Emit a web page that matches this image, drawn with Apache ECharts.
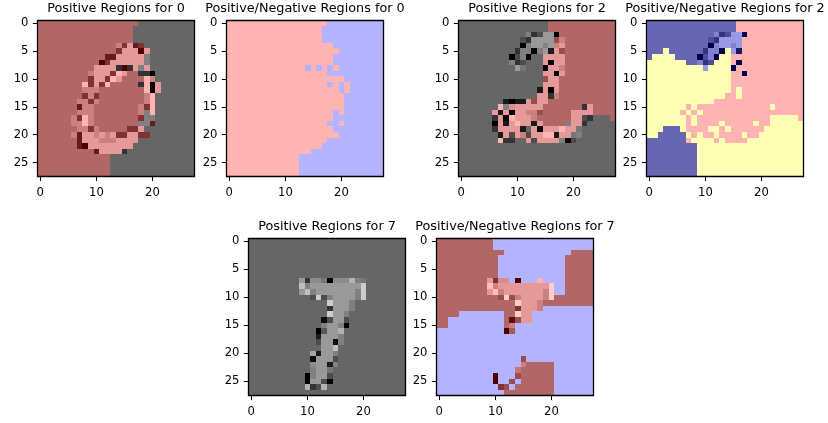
<!DOCTYPE html>
<html><head><meta charset="utf-8">
<style>html,body{margin:0;padding:0;background:#fff}#c{width:828px;height:423px}</style>
<script src="https://cdn.jsdelivr.net/npm/echarts@6/dist/echarts.min.js"></script>
</head><body><div id="c"></div>
<script>
const titles = ['Positive Regions for 0','Positive/Negative Regions for 0','Positive Regions for 2','Positive/Negative Regions for 2','Positive Regions for 7','Positive/Negative Regions for 7'];
const FLAT_LEVEL = 7, BASE_LEVEL = 4;

// Region masks: run lengths per image row (A = supporting, B = against, Y = unused superpixels)
const mask0 = ['A18 B10','A17 B11','A17 B11','A17 B11','A19 B9','A20 B8','A19 B9','A19 B9',
 'A14 B1 A1 B1 A1 B1 A1 B8','A18 B10','A21 B7','A18 B1 A1 B1 A1 B6','A20 B1 A1 B6','A21 B7','A21 B7','A21 B7',
 'A19 B1 A1 B7','A19 B9','A18 B2 A1 B7','A19 B9','A20 B8','A18 B10','A17 B11','A15 B13','A13 B15','A13 B15','A13 B15','A13 B15'];
const mask2 = ['B16 A12','B16 A12','B18 A10','B17 A11','B17 A11','B3 Y1 B10 Y1 B2 A11','B1 Y4 B8 Y2 A13','Y7 B5 Y3 A1 B1 A11',
 'Y10 B1 Y4 B1 A12','Y15 A2 B1 A10','Y15 A13','Y15 A13','Y15 A1 Y1 A11','Y14 A2 Y1 A11','Y12 A16','Y7 A1 Y1 A13 Y1 A5',
 'Y6 A1 Y1 A1 Y1 A18','Y7 A1 Y1 A13 Y5 A1','Y7 A1 Y1 A4 Y1 A5 Y1 A2 Y6','Y3 B3 Y1 A4 Y2 A1 Y1 A6 Y7','Y2 B5 Y1 A1 Y1 A2 Y1 A4 Y1 A2 Y8',
 'B7 A1 Y4 A1 Y1 A4 Y10','B9 Y19','B9 Y19','B9 Y19','B9 Y19','B9 Y19','B9 Y19'];
const mask7 = ['A10 B18','A10 B18','A12 B12 A4','A11 B12 A5','A11 B12 A5','A11 B12 A5','A11 B12 A5','A13 B1 A1 B3 A1 B4 A5',
 'A21 B2 A5','A21 B2 A5','A28','A28','A19 B9','A4 B8 A5 B11','A2 B10 A5 B11','A2 B10 A2 B14','B12 A2 B14',
 'B28','B28','B28','B28','B15 A1 B12','B15 A6 B7','B14 A7 B7','B10 A1 B3 A7 B7','B10 A1 B2 A1 B1 A6 B7','B11 A2 B1 A7 B7','B12 A9 B7'];

// Digit images: per row, "column:level" (or "from-to:level"); unlisted cells hold the background level
const digit0 = ['','','','',
 '14:5 15:2 16:6 17:1 18:2','14:2 15-17:6 18:0 19:6','12:1 13:1 14-18:6 19:5','11:0 12:2 13-18:6 19:5',
 '10-13:6 14:2 15:0 16:2 17:6 18:5 19:6','9:5 10-12:6 13:2 14:7 15:6 18:2 19:2 20:0','9:2 10:6 11:6 12:2 13:7 14:6 19:7 20:5',
 '8:7 9:2 10:6 11:2 12:7 18:2 19:7 20:0 21:6','8:5 9:5 10:5 19:7 20:0 21:6','8:2 9:5 10:2 19:5 20:7','7:5 8:5 9:2 10:5 19:5 20:7',
 '7:1 8:5 9:5 18:5 19:2 20:7','7:5 8:5 9:5 18:5 19:5 20:7','6:5 7:2 8:7 9:5 18:2 19:5 20:5','6:5 7:5 8:7 9:5 18:5 19:5 20:1',
 '7:5 8:5 9:2 10:5 16:2 17:2 18:6','6:5 7:1 8:6 9:6 10:5 11:6 12:5 13:6 14:2 15:2 16:6 17:6 18:2 19:2','7:1 8-10:6 11-13:5 14-17:6',
 '7:1 8:0 9-16:6','10:1 11-14:6 15:2','','','',''];
const digit2 = ['','',
 '12:5 13:2 14:3 15:6 16:6 17:0','11:3 12:2 13-16:6 17:3 18:5','11:0 12:5 13:6 14:6 15:5 16:6 17:5 18:6','10:2 11:5 12:5 13:0 14:5 15:6 16:1 17:6 18:3',
 '9:0 10:3 11:5 12:0 15:6 16:6 17:6 18:6','9:5 10:2 11:3 15:6 16:0 17:6 18:6','10:6 11:4.6 15:0 16:6 17:6 18:5','15:6 16:6 17:0 18:6','15:3 16:6 17:6','15-17:6',
 '14:1 15:6 16:0 17:6','14:6 15:6 16:2 17:5','8:1 9:0 10:1 11:1 12:6 13:3 14:6 15:6','7:7 8:5 9:5.5 10-14:6 22:2 23:6',
 '6:6 7:1 8:6 9:0 10:6 11:6 12:5 13:5 14:3 20-23:6','6:2 7:6 8:0 9:7 10-12:6 13:5 20:6 21:6 22:3 23:2','6:0 7:6 8:1 9:6 10:7 11:6 12:6 13:1 14:6 19:5 20:6 21:6 22:2',
 '6:2 7-10:6 11:1 12:4 13:6 14:0 15-17:6 18:7 19:6 20:6 21:4.6','7:1 8:6 9:3 10:6 11:5 12:3 13:6 14:6 15:7 16:7 17:1 18:6 19:6 20:4.6 21:5',
 '7:7 8:2 9:2 12:6 13:3 14-17:6 18:5 19:0 20:3','','','','','',''];
const digit7 = ['','','','','','','',
 '9:6 10:2 11:5.5 12:5.5 13:4.6 14:0 15-17:5.5 18:7 19:5 20:4.6','9:7.5 10:5 11-19:6 20:8','9:6 10:7.5 11:5 12-18:6 19:5 20:8',
 '11:3 12:8 13:3 14:5 15-18:6 19:5 20:8','14:8 15-17:6 18:5','14:2 15-17:6 18:5','14:8 15:6 16:6 17:5','13:0.5 14:3 15:6 16:6 17:3',
 '13:5 14:6 15:6 16:5 17:0','12:0 13:3.5 14:6 15:6 16:7','12:1 13-15:6 16:5','12:3 13:6 14:6 15:0.5 16:5','13:6 14:6 15:7.5','11:6.5 12:1 13:6 14:6 15:5',
 '11:0.5 12-14:6 15:3','11:5.5 12:6 13:6 14:1 15:5','11:5 12:6 13:6 14:4.6','10:0 11:5 12:6 13:6 14:3','10:0 11:6 12:6 13:3 14:0','10:7 11:2 12:3 13:7',''];

const gridW = 157, gridH = [156,156,156,156,157,157];
const layout = [[37.5,20.5],[226.5,20.5],[458.5,20.5],[646.5,20.5],[248.5,238.5],[436.5,238.5]];
// per panel: image, mask, and per mask letter [tint, keepImage]
const panels = [
 {img:digit0,mask:mask0,map:{A:['red',1],B:['none',1]}},
 {img:digit0,mask:mask0,map:{A:['red',0],B:['blue',0]}},
 {img:digit2,mask:mask2,map:{A:['red',1],Y:['none',1],B:['none',1]}},
 {img:digit2,mask:mask2,map:{A:['red',0],Y:['yellow',0],B:['blue',1]}},
 {img:digit7,mask:mask7,map:{A:['none',1],B:['none',1]}},
 {img:digit7,mask:mask7,map:{A:['red',1],B:['blue',0]}}
];
// colour added on top of the grey level, per region tint
const tints = {none:[0,0,0],red:[.3,0,0],blue:[0,0,.3],yellow:[.3,.3,0]};
function ramp(t){const s=[];for(let i=0;i<=20;i++){const g=i/20;s.push('rgb('+t.map(d=>Math.round(255*Math.min(1,g+d))).join(',')+')');}return s;}

function expandMask(rows){return rows.map(r=>{const o=[];r.split(' ').forEach(t=>{for(let i=0;i<+t.slice(1);i++)o.push(t[0]);});return o;});}
function expandImg(rows){return rows.map(r=>{const o=new Array(28).fill(BASE_LEVEL);r.split(' ').filter(Boolean).forEach(t=>{const [c,l]=t.split(':');const [a,b]=c.split('-');for(let i=+a;i<=+(b===undefined?a:b);i++)o[i]=+l;});return o;});}

const edge=v=>Math.round(v+1e-4);
function renderCell(params,api){
 const p=api.coord([api.value(0),api.value(1)]), sz=api.size([1,1]);
 const x0=edge(p[0]-sz[0]/2),x1=edge(p[0]+sz[0]/2),y0=edge(p[1]-sz[1]/2),y1=edge(p[1]+sz[1]/2);
 return {type:'rect',shape:{x:x0,y:y0,width:x1-x0,height:y1-y0},style:{fill:api.visual('color')}};
}
function renderFrame(params){
 const c=params.coordSys;
 return {type:'rect',shape:{x:c.x,y:c.y,width:c.width,height:c.height},style:{fill:'none',stroke:'#000',lineWidth:1.3}};
}

const cats = Array.from({length:28},(_,i)=>String(i));
const title=[],grid=[],xAxis=[],yAxis=[],series=[];
const tintSeries={none:[],red:[],blue:[],yellow:[]};
const tickStyle={show:true,length:4.6,alignWithLabel:true,lineStyle:{color:'#000',width:1}};
const labelStyle={color:'#000',fontFamily:'DejaVu Sans',fontSize:11.6};
panels.forEach((p,k)=>{
 const [l,t]=layout[k];
 title.push({text:titles[k],left:l+gridW/2,top:t-18.5,padding:0,textAlign:'center',textStyle:{color:'#000',fontFamily:'DejaVu Sans',fontSize:12.8,fontWeight:'normal'}});
 grid.push({left:l,top:t,width:gridW,height:gridH[k]});
 xAxis.push({type:'category',gridIndex:k,data:cats,position:'bottom',axisLine:{show:false},axisTick:{...tickStyle,interval:9},axisLabel:{...labelStyle,interval:9,margin:10},splitLine:{show:false}});
 yAxis.push({type:'category',gridIndex:k,data:cats,inverse:true,position:'left',axisLine:{show:false},axisTick:{...tickStyle,interval:4},axisLabel:{...labelStyle,interval:4,margin:9},splitLine:{show:false}});
 const m=expandMask(p.mask), im=expandImg(p.img), buckets={};
 m.forEach((row,r)=>row.forEach((ch,c)=>{
   const [tint,keep]=p.map[ch];
   (buckets[tint]=buckets[tint]||[]).push([c,r,(keep?im[r][c]:FLAT_LEVEL)/10]);
 }));
 Object.keys(buckets).forEach(tint=>{
   tintSeries[tint].push(series.length);
   series.push({type:'custom',renderItem:renderCell,xAxisIndex:k,yAxisIndex:k,data:buckets[tint],encode:{x:0,y:1},silent:true,animation:false,clip:true});
 });
 series.push({type:'custom',renderItem:renderFrame,xAxisIndex:k,yAxisIndex:k,data:[[0,0]],encode:{x:0,y:1},silent:true,animation:false,clip:false,z:10});
});
const visualMap=Object.keys(tints).filter(t=>tintSeries[t].length).map(t=>({
  type:'continuous',show:false,min:0,max:1,dimension:2,seriesIndex:tintSeries[t],inRange:{color:ramp(tints[t])}
}));
const chart=echarts.init(document.getElementById('c'),null,{renderer:'canvas'});
chart.setOption({animation:false,backgroundColor:'#fff',title,grid,xAxis,yAxis,visualMap,series});
</script></body></html>
